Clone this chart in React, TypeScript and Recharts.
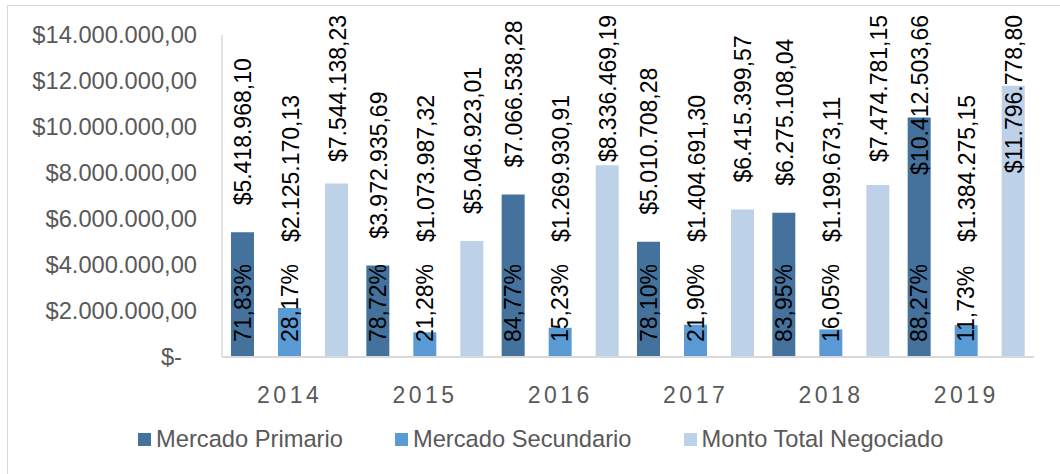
import { BarChart, Bar, XAxis, YAxis, Legend } from "recharts";

const years = ["2014", "2015", "2016", "2017", "2018", "2019"];
const primario = [5418968.1, 3972935.69, 7066538.28, 5010708.28, 6275108.04, 10412503.66];
const secundario = [2125170.13, 1073987.32, 1269930.91, 1404691.3, 1199673.11, 1384275.15];
const total = [7544138.23, 5046923.01, 8336469.19, 6415399.57, 7474781.15, 11796778.8];
const pctPrimario = [71.83, 78.72, 84.77, 78.1, 83.95, 88.27];
const pctSecundario = [28.17, 21.28, 15.23, 21.9, 16.05, 11.73];
const yTicks = [0, 2000000, 4000000, 6000000, 8000000, 10000000, 12000000, 14000000];

const series = [
  { key: "primario", name: "Mercado Primario", color: "#44729d", pct: pctPrimario },
  { key: "secundario", name: "Mercado Secundario", color: "#5b9bd5", pct: pctSecundario },
  { key: "total", name: "Monto Total Negociado", color: "#bdd1e9", pct: null },
];

const data = years.map((year, i) => ({
  year,
  primario: primario[i],
  secundario: secundario[i],
  total: total[i],
}));

const FONT = '"Liberation Sans", Arial, sans-serif';
const FS = 23; // data labels
const AXIS_FS = 23.7; // ticks and legend

const money = (v: number) => {
  const [int, dec] = v.toFixed(2).split(".");
  return "$" + int.replace(/\B(?=(\d{3})+(?!\d))/g, ".") + "," + dec;
};
const pctText = (v: number) => v.toFixed(2).replace(".", ",") + "%";

// rough Arial advance widths, to keep labels inside the top of the chart
const textLen = (s: string) =>
  s.split("").reduce((w, c) => w + (c === "." || c === "," ? 0.278 : c === "%" ? 0.889 : 0.556), 0) * FS;

const makeLabel = (pct: number[] | null) => (props: any) => {
  const { x, y, width, height, value, index } = props;
  const cx = x + width / 2;
  const base = y + height;
  const txt = money(value);
  const bottom = Math.min(y - 27, base - 115);
  const clamped = bottom - textLen(txt) < 15;
  const ty = clamped ? 15 : bottom;
  return (
    <g style={{ fontFamily: FONT, fontSize: FS }} fill="#000">
      <text
        x={cx + 1}
        y={ty}
        transform={`rotate(-90, ${cx + 1}, ${ty})`}
        textAnchor={clamped ? "end" : "start"}
        dominantBaseline="central"
      >
        {txt}
      </text>
      {pct && (
        <text
          x={cx}
          y={base - 15}
          transform={`rotate(-90, ${cx}, ${base - 15})`}
          textAnchor="start"
          dominantBaseline="central"
        >
          {pctText(pct[index])}
        </text>
      )}
    </g>
  );
};

const YTick = (props: any) => {
  const { y, payload } = props;
  const zero = payload.value === 0;
  return (
    <text
      x={zero ? 182 : 197}
      y={y}
      dy="0.355em"
      textAnchor="end"
      fill="#595959"
      style={{ fontFamily: FONT, fontSize: AXIS_FS }}
    >
      {zero ? "$-" : money(payload.value)}
    </text>
  );
};

const XTick = (props: any) => {
  const { x, y, payload } = props;
  return (
    <text
      x={x}
      y={y + 30}
      dy="0.355em"
      textAnchor="middle"
      fill="#595959"
      style={{ fontFamily: FONT, fontSize: FS, letterSpacing: 3.5 }}
    >
      {payload.value}
    </text>
  );
};

const LegendContent = () => (
  <div
    style={{
      display: "flex",
      paddingLeft: 138,
      fontFamily: FONT,
      fontSize: AXIS_FS,
      color: "#595959",
      lineHeight: "28px",
    }}
  >
    {series.map((s) => (
      <div key={s.key} style={{ display: "flex", alignItems: "center", marginRight: 52 }}>
        <span style={{ width: 13, height: 13, background: s.color, marginRight: 5 }} />
        <span>{s.name}</span>
      </div>
    ))}
  </div>
);

export default function App() {
  return (
    <div style={{ position: "absolute", left: 0, top: 0, width: 1060, height: 474, background: "#fff" }}>
      <div
        style={{
          position: "absolute",
          left: 7,
          top: 5,
          width: 1060,
          height: 474,
          border: "1.5px solid #d9d9d9",
          boxSizing: "border-box",
        }}
      />
      <BarChart
        width={1060}
        height={474}
        data={data}
        margin={{ top: 35, right: 26, bottom: 57, left: 0 }}
        barSize={23}
        barGap={24}
        style={{ position: "absolute", left: 0, top: 0 }}
      >
        <XAxis
          dataKey="year"
          height={60}
          tickLine={false}
          axisLine={{ stroke: "#d9d9d9", strokeWidth: 2 }}
          tick={<XTick />}
          interval={0}
        />
        <YAxis
          width={222}
          domain={[0, 14000000]}
          ticks={yTicks}
          tickLine={false}
          axisLine={{ stroke: "#d9d9d9", strokeWidth: 1.5 }}
          tick={<YTick />}
          interval={0}
        />
        <Legend
          layout="horizontal"
          verticalAlign="middle"
          align="center"
          wrapperStyle={{ top: 425, left: 0, width: 1060 }}
          content={<LegendContent />}
        />
        {series.map((s) => (
          <Bar
            key={s.key}
            dataKey={s.key}
            name={s.name}
            fill={s.color}
            isAnimationActive={false}
            label={makeLabel(s.pct)}
          />
        ))}
      </BarChart>
    </div>
  );
}
